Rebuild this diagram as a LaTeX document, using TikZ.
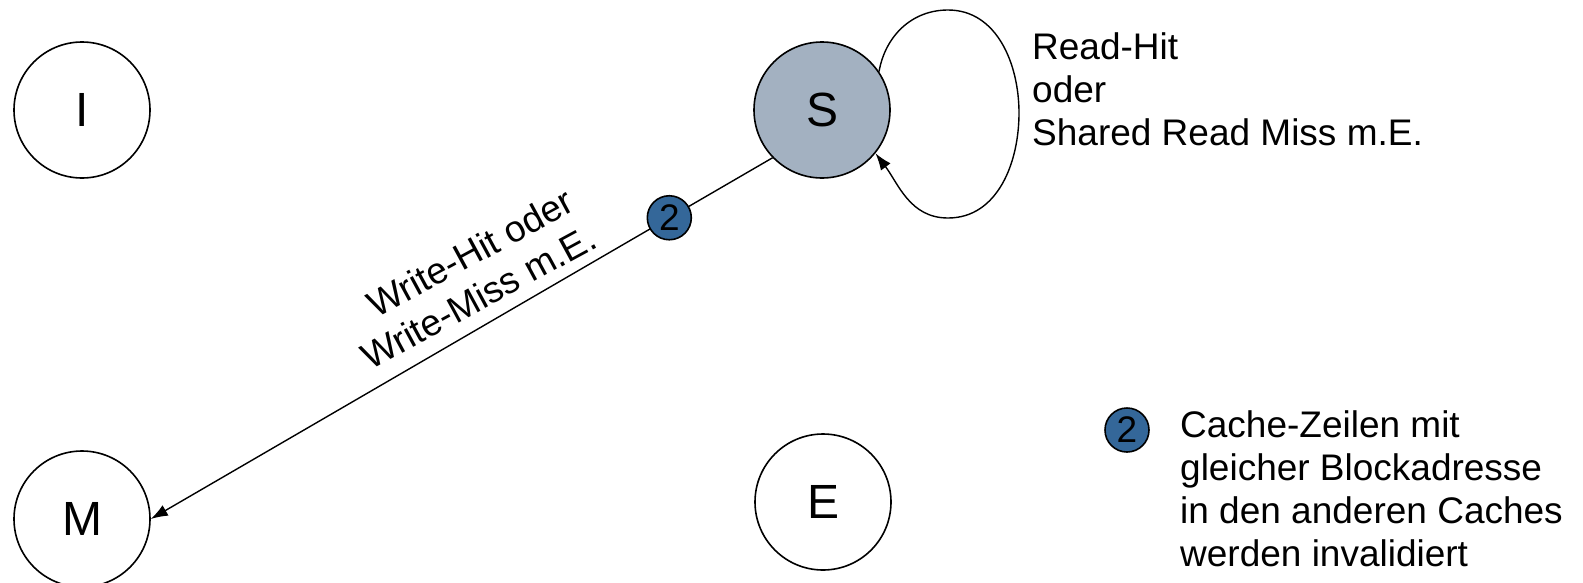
\documentclass[tikz,border=0pt]{standalone}
\usepackage{fontspec}
\setmainfont{Liberation Sans}
\usetikzlibrary{arrows.meta}
\definecolor{stategray}{RGB}{163,177,193}
\definecolor{markblue}{RGB}{52,103,153}
\begin{document}
\begin{tikzpicture}[x=1pt,y=1pt,
  state/.style={circle, draw=black, line width=1.6pt, minimum size=136pt, inner sep=0pt,
    font=\fontsize{48}{48}\selectfont},
  badge/.style={circle, draw=black, line width=1.6pt, fill=markblue, minimum size=44pt,
    inner sep=0pt, font=\fontsize{37}{37}\selectfont},
  lbl/.style={font=\fontsize{37}{43}\selectfont, inner sep=0pt},
  conn/.style={line width=1.4pt, -{Latex[length=17pt,width=12pt]}}
]
\useasboundingbox (0,0) rectangle (1583,-582);

% MESI states
\node[state] (I) at (82,-110) {I};
\node[state, fill=stategray] (S) at (822,-110) {S};
\node[state] (M) at (82,-519) {M};
\node[state] (E) at (823,-502) {E};

% S -> M on write
\draw[conn] (S.224) -- node[badge, pos=0.166] (b1) {2} (M.east);
\node[lbl, rotate=28.5, anchor=base, align=center] (wlabel) at (497,-302)
  {Write-Hit oder\\Write-Miss m.E.\hspace*{28pt}};

% self loop on S
\coordinate (ltop) at (948,-10);
\coordinate (lright) at (1019,-113);
\coordinate (lbot) at (948,-218);
\draw[conn] (S.34) to[out=80,in=180] (ltop) to[out=0,in=90] (lright)
  to[out=-90,in=0] (lbot) to[out=180,in=-53] (S.-39);
\node[lbl, anchor=base west, align=left] (rlabel) at (1032,-145)
  {Read-Hit\\oder\\Shared Read Miss m.E.};

% legend
\node[badge] (b2) at (1127,-430) {2};
\node[lbl, anchor=base west, align=left] (legend) at (1180,-566)
  {Cache-Zeilen mit\\gleicher Blockadresse\\in den anderen Caches\\werden invalidiert};
\end{tikzpicture}
\end{document}
